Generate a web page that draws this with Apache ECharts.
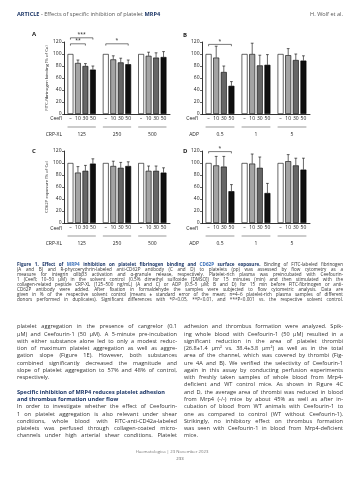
<!DOCTYPE html>
<html><head><meta charset="utf-8">
<script src="https://cdn.jsdelivr.net/npm/echarts@6/dist/echarts.min.js"></script>
<style>html,body{margin:0;padding:0;background:#fff}#c{width:360px;height:480px}</style>
</head><body><div id="c"></div>
<script>
// ---------------- data ----------------
const ceefLabels = ['–', '10', '30', '50'];
const crpGroups = ['125', '250', '500'];
const adpGroups = ['0.5', '1', '5'];
// means and SEM, ordered group by group (control, 10, 30, 50 µM Ceefl)
const fibCrpMean = [100, 85, 80, 74, 100, 91, 86, 83, 100, 97, 94, 95];
const fibCrpSem  = [0, 5, 4, 6, 0, 6, 7, 7, 0, 6, 8, 9];
const fibAdpMean = [100, 94, 70, 47, 100, 100, 81, 82, 100, 98, 90, 89];
const fibAdpSem  = [0, 19, 10, 7, 0, 18, 17, 17, 0, 11, 10, 8];
const cdCrpMean  = [100, 84, 87, 99, 100, 95, 92, 95, 100, 87, 87, 84];
const cdCrpSem   = [0, 10, 9, 8, 0, 8, 9, 7, 0, 8, 8, 8];
const cdAdpMean  = [100, 96, 94, 53, 100, 99, 92, 50, 100, 103, 96, 89];
const cdAdpSem   = [0, 15, 17, 11, 0, 16, 18, 16, 0, 11, 12, 19];
// significance brackets: [group, fromBar, toBar, level]
const fibCrpSig = [[0, 0, 3, 127], [0, 0, 2, 117], [1, 0, 3, 117]];
const fibCrpSigText = ['***', '**', '*'];
const fibAdpSig = [[0, 0, 3, 116]];
const fibAdpSigText = ['*'];
const cdAdpSig = [[0, 0, 3, 119]];
const cdAdpSigText = ['*'];

// ---------------- text ----------------
const headerLeft = 'ARTICLE';
const headerTitle = ' - Effects of specific inhibition of platelet ';
const headerTitleEnd = 'MRP4';
const headerRight = 'H. Wolf et al.';
const captionLines = [
  {t: 'Figure 1. Effect of MRP4 inhibition on platelet fibrinogen binding and CD62P surface exposure. Binding of FITC-labeled fibrinogen', b: 14, j: true, hl: ['MRP4', 'CD62P']},
  {t: '(A and B) and R-phycoerythrin-labeled anti-CD62P antibody (C and D) to platelets (pp) was assessed by flow cytometry as a', j: true},
  {t: 'measure for integrin αIIbβ3 activation and α-granule release, respectively. Platelet-rich plasma was preincubated with Ceefourin-', j: true},
  {t: '1 (Ceefl; 10–50 µM) in the solvent control (0.5% dimethyl sulfoxide [DMSO]) for 15 minutes (min) and then stimulated with the', j: true},
  {t: 'collagen-related peptide CRP-XL (125–500 ng/mL) (A and C) or ADP (0.5–5 µM; B and D) for 15 min before FITC-fibrinogen or anti-', j: true},
  {t: 'CD62P antibody were added. After fixation in formaldehyde the samples were subjected to flow cytometric analysis. Data are', j: true},
  {t: 'given in % of the respective solvent control (means ± standard error of the mean; n=4–6 platelet-rich plasma samples of different', j: true},
  {t: 'donors performed in duplicates). Significant differences with *P<0.05, **P<0.01, and ***P<0.001 vs. the respective solvent control.', j: true}
];
const col1Lines = [
  {t: 'platelet aggregation in the presence of cangrelor (0.1', j: true},
  {t: 'µM) and Ceefourin-1 (50 µM). A 5-minute pre-incubation', j: true},
  {t: 'with either substance alone led to only a modest reduc-', j: true},
  {t: 'tion of maximum platelet aggregation as well as aggre-', j: true},
  {t: 'gation slope (Figure 1E). However, both substances', j: true},
  {t: 'combined significantly decreased the magnitude and', j: true},
  {t: 'slope of platelet aggregation to 57% and 48% of control,', j: true},
  {t: 'respectively.'},
  null,
  {t: 'Specific inhibition of MRP4 reduces platelet adhesion', b: 99},
  {t: 'and thrombus formation under flow', b: 99},
  {t: 'In order to investigate whether the effect of Ceefourin-', j: true},
  {t: '1 on platelet aggregation is also relevant under shear', j: true},
  {t: 'conditions, whole blood with FITC-anti-CD42a-labeled', j: true},
  {t: 'platelets was perfused through collagen-coated micro-', j: true},
  {t: 'channels under high arterial shear conditions. Platelet', j: true}
];
const col2Lines = [
  {t: 'adhesion and thrombus formation were analyzed. Spik-', j: true},
  {t: 'ing whole blood with Ceefourin-1 (50 µM) resulted in a', j: true},
  {t: 'significant reduction in the area of platelet thrombi', j: true},
  {t: '(26.8±1.4 µm² vs. 38.4±3.8 µm²) as well as in the total', j: true},
  {t: 'area of the channel, which was covered by thrombi (Fig-', j: true},
  {t: 'ure 4A and B). We verified the selectivity of Ceefourin-1', j: true},
  {t: 'again in this assay by conducting perfusion experiments', j: true},
  {t: 'with freshly taken samples of whole blood from Mrp4-', j: true},
  {t: 'deficient and WT control mice. As shown in Figure 4C', j: true},
  {t: 'and D, the average area of thrombi was reduced in blood', j: true},
  {t: 'from Mrp4 (-/-) mice by about 45% as well as after in-', j: true},
  {t: 'cubation of blood from WT animals with Ceefourin-1 to', j: true},
  {t: 'one as compared to control (WT without Ceefourin-1).', j: true},
  {t: 'Strikingly, no inhibitory effect on thrombus formation', j: true},
  {t: 'was seen with Ceefourin-1 in blood from Mrp4-deficient', j: true},
  {t: 'mice.'}
];
const footerJournal = 'Haematologica | 23 November 2023';
const footerPage = '233';

// ---------------- style ----------------
const FONT = 'Open Sans';
const NAVY = '#1d3767';
const LINK = '#3a6fb8';
const TEXT = '#333333';
const barColors = ['#ffffff', '#a3a3a3', '#666666', '#0f0f0f'];
const CAT_GAP = 0.2, BAR_GAP = 0.28;

const panels = [
  {grid: {left: 64, top: 42, width: 106, height: 72}, groups: crpGroups, mean: fibCrpMean, sem: fibCrpSem, sig: fibCrpSig, sigText: fibCrpSigText, yName: 'FITC-fibrinogen binding (% of Co)'},
  {grid: {left: 202, top: 42, width: 108, height: 72}, groups: adpGroups, mean: fibAdpMean, sem: fibAdpSem, sig: fibAdpSig, sigText: fibAdpSigText, yName: ''},
  {grid: {left: 64, top: 151, width: 106, height: 72}, groups: crpGroups, mean: cdCrpMean, sem: cdCrpSem, sig: [], sigText: [], yName: 'CD62P exposure (% of Co)'},
  {grid: {left: 202, top: 151, width: 108, height: 72}, groups: adpGroups, mean: cdAdpMean, sem: cdAdpSem, sig: cdAdpSig, sigText: cdAdpSigText, yName: ''}
];

function barX(api, g, k) {
  const band = api.size([1, 0])[0];
  const groupW = band * (1 - CAT_GAP);
  const bw = groupW / (4 + 3 * BAR_GAP);
  return api.coord([g, 0])[0] - groupW / 2 + bw / 2 + k * bw * (1 + BAR_GAP);
}

const grids = [], xAxes = [], yAxes = [], series = [];
panels.forEach((p, pi) => {
  grids.push(Object.assign({outerBoundsMode: 'none', containLabel: false}, p.grid));
  xAxes.push({
    type: 'category', gridIndex: pi, data: p.groups,
    axisLine: {show: true, lineStyle: {color: '#000', width: 0.8}},
    axisTick: {show: false}, axisLabel: {show: false}, splitLine: {show: false}
  });
  xAxes.push({
    type: 'category', gridIndex: pi, data: p.groups, position: 'bottom', offset: 18,
    axisLine: {show: false}, axisTick: {show: false}, splitLine: {show: false},
    axisLabel: {show: true, fontSize: 5, margin: 0.5, color: '#222', fontFamily: FONT}
  });
  yAxes.push({
    type: 'value', gridIndex: pi, min: 0, max: 120, interval: 20,
    name: p.yName, nameLocation: 'middle', nameGap: 14,
    nameTextStyle: {fontSize: 4.3, color: '#222', fontFamily: FONT},
    axisLine: {show: true, lineStyle: {color: '#000', width: 0.8}},
    axisTick: {show: true, length: 2, lineStyle: {color: '#000', width: 0.6}},
    axisLabel: {fontSize: 5, margin: 2.5, color: '#222', fontFamily: FONT},
    splitLine: {show: false}
  });
  for (let k = 0; k < 4; k++) {
    series.push({
      type: 'bar', xAxisIndex: 2 * pi, yAxisIndex: pi,
      data: [p.mean[k], p.mean[4 + k], p.mean[8 + k]],
      barGap: (BAR_GAP * 100) + '%', barCategoryGap: (CAT_GAP * 100) + '%',
      itemStyle: {color: barColors[k], borderColor: '#000', borderWidth: 0.6},
      label: {show: true, position: 'bottom', distance: 2, formatter: ceefLabels[k], fontSize: 5, color: '#222', fontFamily: FONT},
      silent: true, animation: false
    });
  }
  // error bars
  const errData = [];
  for (let g = 0; g < 3; g++) for (let k = 0; k < 4; k++) {
    if (p.sem[g * 4 + k] > 0) errData.push([g, k, p.mean[g * 4 + k], p.sem[g * 4 + k]]);
  }
  series.push({
    type: 'custom', xAxisIndex: 2 * pi, yAxisIndex: pi, clip: false, silent: true, animation: false,
    encode: {x: 0, y: 2}, data: errData,
    renderItem: (params, api) => {
      const x = barX(api, api.value(0), api.value(1));
      const y0 = api.coord([api.value(0), api.value(2)])[1];
      const y1 = api.coord([api.value(0), api.value(2) + api.value(3)])[1];
      const st = {stroke: '#000', lineWidth: 0.6};
      return {type: 'group', children: [
        {type: 'line', shape: {x1: x, y1: y0, x2: x, y2: y1}, style: st},
        {type: 'line', shape: {x1: x - 1.4, y1: y1, x2: x + 1.4, y2: y1}, style: st}
      ]};
    }
  });
  // group underlines
  series.push({
    type: 'custom', xAxisIndex: 2 * pi, yAxisIndex: pi, clip: false, silent: true, animation: false,
    encode: {x: 0, y: 1}, data: [[0, 0], [1, 0], [2, 0]],
    renderItem: (params, api) => {
      const band = api.size([1, 0])[0];
      const gw = band * (1 - CAT_GAP);
      const c = api.coord([api.value(0), 0]);
      return {type: 'line', shape: {x1: c[0] - gw / 2, y1: c[1] + 13, x2: c[0] + gw / 2, y2: c[1] + 13}, style: {stroke: '#555', lineWidth: 0.6}};
    }
  });
  // significance brackets
  if (p.sig.length) {
    const txt = p.sigText;
    series.push({
      type: 'custom', xAxisIndex: 2 * pi, yAxisIndex: pi, clip: false, silent: true, animation: false,
      encode: {x: 0, y: 3}, data: p.sig,
      renderItem: (params, api) => {
        const g = api.value(0);
        const xa = barX(api, g, api.value(1)), xb = barX(api, g, api.value(2));
        const y = api.coord([g, api.value(3)])[1];
        return {type: 'group', children: [
          {type: 'polyline', shape: {points: [[xa, y + 1.8], [xa, y], [xb, y], [xb, y + 1.8]]}, style: {stroke: '#222', lineWidth: 0.6, fill: null}},
          {type: 'text', x: (xa + xb) / 2, y: y - 0.5, style: {text: txt[params.dataIndex], fontSize: 5, fill: '#222', align: 'center', verticalAlign: 'bottom', fontFamily: FONT}}
        ]};
      }
    });
  }
});

// ---------------- text layout helpers ----------------
const mctx = document.createElement('canvas').getContext('2d');
function measure(t, size, weight) {
  mctx.font = weight + ' ' + size + 'px ' + FONT;
  return mctx.measureText(t).width;
}
function lineStyles(ln) {
  return ln.t.split(' ').map((w, wi) => {
    const bold = wi < (ln.b || 0);
    let fill = bold ? NAVY : TEXT;
    if (bold && ln.hl && ln.hl.some(h => w.indexOf(h) === 0)) fill = LINK;
    return {w, weight: bold ? 'bold' : 'normal', fill};
  });
}
// largest font size (<= maxSize) at which every justified line fits with decent spacing
function fitSize(lines, width, maxSize) {
  let size = maxSize;
  while (size > 3) {
    const ok = lines.every(ln => {
      if (!ln) return true;
      const st = lineStyles(ln);
      const w = st.reduce((a, s) => a + measure(s.w, size, s.weight), 0) + (st.length - 1) * measure(' ', size, 'normal') * 0.85;
      return w <= width;
    });
    if (ok) return size;
    size -= 0.05;
  }
  return size;
}
function textBlock(lines, x0, x1, y0, lh, maxSize, out) {
  const size = fitSize(lines, x1 - x0, maxSize);
  lines.forEach((ln, i) => {
    if (!ln) return;
    const y = y0 + i * lh;
    const st = lineStyles(ln);
    const widths = st.map(s => measure(s.w, size, s.weight));
    const total = widths.reduce((a, b) => a + b, 0);
    let space = measure(' ', size, 'normal');
    if (ln.j && st.length > 1) space = (x1 - x0 - total) / (st.length - 1);
    let x = x0;
    st.forEach((s, wi) => {
      out.push({type: 'text', x: x, y: y, silent: true,
        style: {text: s.w, fontSize: size, fontFamily: FONT, fontWeight: s.weight, fill: s.fill, verticalAlign: 'middle', align: 'left'}});
      x += widths[wi] + space;
    });
  });
}

const graphics = [];
function label(text, x, y, opt) {
  graphics.push({type: 'text', x: x, y: y, silent: true, style: Object.assign({text: text, fontSize: 5, fontFamily: FONT, fill: '#222', verticalAlign: 'middle', align: 'left'}, opt || {})});
}
// header
graphics.push({type: 'text', x: 17, y: 14, silent: true, style: {
  text: '{a|' + headerLeft + '}{t|' + headerTitle + '}{m|' + headerTitleEnd + '}',
  verticalAlign: 'middle', align: 'left',
  rich: {
    a: {fontSize: 5.6, fontWeight: 'bold', fill: NAVY, fontFamily: FONT},
    t: {fontSize: 5.6, fill: '#555', fontFamily: FONT},
    m: {fontSize: 5.6, fontWeight: 'bold', fill: NAVY, fontFamily: FONT}
  }}});
label(headerRight, 343, 14, {align: 'right', fontSize: 5.6, fill: '#555'});
// panel letters
label('A', 32, 34, {fontSize: 6, fontWeight: 'bold'});
label('B', 183, 35, {fontSize: 6, fontWeight: 'bold'});
label('C', 32, 151, {fontSize: 6, fontWeight: 'bold'});
label('D', 183, 151, {fontSize: 6, fontWeight: 'bold'});
// row labels
label('Ceefl', 62, 119, {align: 'right'});
label('Ceefl', 198, 119, {align: 'right'});
label('CRP-XL', 62, 134.5, {align: 'right'});
label('ADP', 199, 134.5, {align: 'right'});
label('Ceefl', 62, 228.5, {align: 'right'});
label('Ceefl', 198, 228.5, {align: 'right'});
label('CRP-XL', 62, 244, {align: 'right'});
label('ADP', 199, 244, {align: 'right'});
// caption & body
textBlock(captionLines, 17, 343, 264.3, 5.0, 4.6, graphics);
textBlock(col1Lines, 17, 177, 326.7, 7.27, 5.6, graphics);
textBlock(col2Lines, 184, 343, 326.7, 7.27, 5.6, graphics);
// footer
label(footerJournal, 172, 452, {align: 'center', fontSize: 4.3, fill: '#777'});
label(footerPage, 180, 459, {align: 'center', fontSize: 4.3, fill: '#555'});

const chart = echarts.init(document.getElementById('c'), null, {renderer: 'canvas', width: 360, height: 480});
chart.setOption({
  animation: false,
  backgroundColor: '#ffffff',
  grid: grids, xAxis: xAxes, yAxis: yAxes, series: series,
  graphic: {elements: graphics}
});
</script>
</body></html>
